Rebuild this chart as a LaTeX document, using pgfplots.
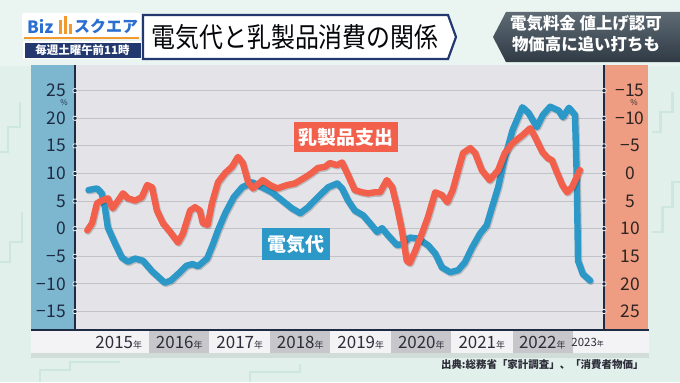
\documentclass[border=0pt]{standalone}
\usepackage{pgfplots}
\pgfplotsset{compat=1.18}
\usepackage{fontspec}
\usepackage{graphicx}
\setmainfont{Noto Sans CJK JP}
\definecolor{bgc}{HTML}{E2F0EC}
\definecolor{bgtop}{HTML}{EAF4F1}
\definecolor{bgline}{HTML}{CDE6DE}
\definecolor{panel}{HTML}{E4E4E8}
\definecolor{lband}{HTML}{7DB6CF}
\definecolor{rband}{HTML}{EE9D82}
\definecolor{navy}{HTML}{1E2B45}
\definecolor{gridc}{HTML}{C2C3C9}
\definecolor{bluel}{HTML}{2C98C8}
\definecolor{redl}{HTML}{F2604B}
\definecolor{stripw}{HTML}{F3F3F5}
\definecolor{stripg}{HTML}{C6C6CB}
\definecolor{labc}{HTML}{2E2E3A}
\definecolor{bizblue}{HTML}{2A6FD0}
\definecolor{bizorange}{HTML}{F29A2E}
\definecolor{boxnavy}{HTML}{22386E}
\definecolor{slateA}{HTML}{5E6A74}
\definecolor{slateB}{HTML}{2F3A45}
\definecolor{rlab}{HTML}{2E2522}

\pgfplotstableread{
x v
2015.00 7.0
2015.14 7.3
2015.22 6.4
2015.27 3.9
2015.32 0.2
2015.44 -2.7
2015.55 -5.2
2015.65 -6.0
2015.77 -5.4
2015.90 -5.8
2016.05 -7.7
2016.18 -9.0
2016.26 -9.8
2016.36 -9.4
2016.50 -8.0
2016.62 -6.7
2016.72 -6.4
2016.81 -6.8
2016.96 -5.4
2017.05 -3.0
2017.14 -0.3
2017.26 2.8
2017.40 5.7
2017.54 7.5
2017.71 8.4
2017.87 7.5
2018.03 6.6
2018.20 5.1
2018.36 3.7
2018.50 2.8
2018.63 3.9
2018.79 5.7
2018.96 7.5
2019.11 8.2
2019.19 7.3
2019.29 5.1
2019.40 3.3
2019.54 2.4
2019.65 1.0
2019.77 -0.6
2019.85 0.1
2019.95 -1.2
2020.10 -3.0
2020.20 -2.7
2020.31 -1.6
2020.45 -1.8
2020.61 -3.0
2020.73 -4.5
2020.84 -7.0
2020.98 -7.9
2021.11 -7.5
2021.22 -6.1
2021.34 -3.4
2021.47 -0.9
2021.58 0.6
2021.67 3.9
2021.77 7.5
2021.87 12.4
2022.01 17.9
2022.17 22.0
2022.27 21.0
2022.41 18.4
2022.51 20.6
2022.63 22.1
2022.77 21.4
2022.84 20.2
2022.94 21.9
2023.04 20.6
2023.07 9.0
2023.09 -5.8
2023.17 -8.2
2023.29 -9.4
}\blue

\pgfplotstableread{
x r
2014.98 10.3
2015.06 9.0
2015.14 5.4
2015.22 4.9
2015.32 4.5
2015.40 6.3
2015.49 4.9
2015.57 3.6
2015.65 4.5
2015.77 4.9
2015.88 4.3
2015.97 2.1
2016.05 2.5
2016.13 6.7
2016.23 9.0
2016.35 10.6
2016.48 12.5
2016.56 10.9
2016.68 6.7
2016.76 6.1
2016.84 6.7
2016.89 9.0
2016.97 9.3
2017.04 5.4
2017.14 1.6
2017.26 -0.1
2017.37 -1.2
2017.47 -3.0
2017.55 -1.9
2017.64 1.6
2017.72 2.7
2017.88 1.2
2018.00 2.1
2018.12 2.7
2018.28 2.1
2018.41 1.8
2018.58 0.7
2018.69 -0.1
2018.79 -1.0
2018.91 -1.2
2018.99 -1.9
2019.11 -1.5
2019.19 -2.0
2019.29 0.3
2019.40 3.0
2019.52 3.4
2019.62 3.6
2019.73 3.4
2019.82 3.4
2019.93 1.2
2020.02 2.5
2020.10 6.1
2020.18 10.3
2020.26 15.8
2020.31 16.2
2020.40 14.0
2020.51 10.9
2020.61 7.9
2020.73 3.4
2020.84 3.9
2020.93 5.2
2021.02 3.0
2021.11 -0.6
2021.19 -3.7
2021.31 -4.6
2021.39 -3.7
2021.50 -0.6
2021.63 1.2
2021.77 -0.6
2021.88 -3.7
2022.01 -5.5
2022.18 -7.0
2022.30 -8.2
2022.38 -6.6
2022.50 -3.9
2022.59 -2.8
2022.66 -2.4
2022.74 -0.2
2022.83 2.1
2022.91 3.4
2022.99 2.5
2023.12 -0.6
}\red

\begin{document}
\begin{tikzpicture}
\begin{scope}[x=1bp,y=1bp]
\useasboundingbox (0,0) rectangle (680,382);
\fill[bgc] (0,0) rectangle (680,382);
\fill[bgtop] (0,316) rectangle (680,382);
% faint decorative background strokes
\draw[bgline, line width=3] (0,120) -- (10,120) -- (10,140) -- (22,140) -- (22,170);
\draw[bgline, line width=3] (0,230) -- (8,230) -- (8,255) -- (20,255) -- (20,280);
\draw[bgline, line width=3] (652,150) -- (662,150) -- (662,175) -- (672,175) -- (672,200) -- (680,200);
\draw[bgline, line width=3] (652,250) -- (660,250) -- (660,270) -- (672,270) -- (672,290);
\draw[bgline, line width=3] (40,0) -- (40,12) -- (70,12) -- (70,20) -- (120,20);
\draw[bgline, line width=3] (250,0) -- (250,10) -- (300,10) -- (300,18);
% panel
\fill[panel] (75,52) rectangle (604,317);
\fill[lband] (31,52) rectangle (75,317);
\fill[rband] (604,52) rectangle (648,317);
% bottom strip
\fill[black, opacity=0.08] (31,24) rectangle (649,29);
\fill[stripw] (31,29) rectangle (149,52);
\fill[stripg] (149,29) rectangle (209,52);
\fill[stripw] (209,29) rectangle (270,52);
\fill[stripg] (270,29) rectangle (330,52);
\fill[stripw] (330,29) rectangle (391,52);
\fill[stripg] (391,29) rectangle (451,52);
\fill[stripw] (451,29) rectangle (513,52);
\fill[stripg] (513,29) rectangle (573,52);
\fill[stripw] (573,29) rectangle (649,52);
% axis lines
\draw[navy, line width=1.6] (75,52) -- (75,317);
\draw[navy, line width=1.6] (604,52) -- (604,317);
\draw[navy, line width=1.8] (31,52) -- (649,52);
% percent signs
\node[text=navy, font=\fontsize{8}{8}\selectfont] at (64,279) {\%};
\node[text=rlab, font=\fontsize{8}{8}\selectfont] at (634,279) {\%};
% source
\node[anchor=east, text=labc, font=\fontsize{10.5}{10.5}\selectfont\bfseries] at (647,17) {出典:総務省「家計調査」、「消費者物価」};
% logo
\fill[white, rounded corners=2] (22,343) rectangle (141,369);
\fill[bizorange] (24,343) rectangle (139,345.5);
\node[anchor=west, text=bizblue, font=\fontsize{17}{17}\selectfont\bfseries, inner sep=0] at (27,356) {Biz};
\fill[bizorange] (59,348) rectangle (62,362);
\fill[bizorange] (64,348) rectangle (67,366);
\fill[bizorange] (69,348) rectangle (72,358);
\node[anchor=west, text=bizblue, font=\fontsize{16}{16}\selectfont\bfseries, inner sep=0] at (74,356) {スクエア};
\fill[white] (23,323) rectangle (142,341);
\fill[boxnavy] (24.5,324.5) rectangle (140.5,339.5);
\node[text=white, font=\fontsize{11.5}{11.5}\selectfont\bfseries] at (82.5,332) {毎週土曜午前11時};
% title box
\filldraw[fill=white, draw=boxnavy, line width=2.2] (143,367) -- (448,367) -- (456,345) -- (448,323) -- (143,323) -- cycle;
\node[text=black!85!navy, font=\fontsize{24.5}{24.5}\selectfont] at (295,345) {\scalebox{0.98}[1.12]{電気代と乳製品消費の関係}};
% right box
\shade[top color=slateA, bottom color=slateB] (493,345) -- (506,370) -- (680,370) -- (680,320) -- (506,320) -- cycle;
\node[text=white, font=\fontsize{16.5}{16.5}\selectfont\bfseries] at (586,359) {電気料金 値上げ認可};
\node[text=white, font=\fontsize{16.5}{16.5}\selectfont\bfseries] at (586,338) {物価高に追い打ちも};
\end{scope}

\begin{axis}[
  at={(75bp,52bp)}, anchor=south west, scale only axis,
  width=529bp, height=265bp,
  xmin=2014.777, xmax=2023.52, ymin=-18.35, ymax=29.65,
  axis line style={draw=none}, tick style={draw=none},
  ytick={-15,-10,-5,0,5,10,15,20,25},
  yticklabels={−15,−10,−5,0,5,10,15,20,25},
  ymajorgrids, grid style={draw=gridc, line width=0.9bp},
  yticklabel style={anchor=east, inner sep=0pt, xshift=-9bp, font=\fontsize{17.5}{17.5}\selectfont, text=navy},
  xtick={2015.5,2016.5,2017.5,2018.5,2019.5,2020.5,2021.5,2022.5,2023.25},
  xticklabels={2015{\fontsize{9}{9}\selectfont 年},2016{\fontsize{9}{9}\selectfont 年},2017{\fontsize{9}{9}\selectfont 年},2018{\fontsize{9}{9}\selectfont 年},2019{\fontsize{9}{9}\selectfont 年},2020{\fontsize{9}{9}\selectfont 年},2021{\fontsize{9}{9}\selectfont 年},2022{\fontsize{9}{9}\selectfont 年},{\fontsize{11.5}{11.5}\selectfont 2023\fontsize{7}{7}\selectfont 年}},
  xticklabel style={anchor=center, inner sep=0pt, yshift=-13bp, font=\fontsize{17}{17}\selectfont, text=labc},
  clip=false,
]
\addplot[draw=black, opacity=0.18, line width=7bp, line join=round, line cap=round, xshift=0.8bp, yshift=-1bp, forget plot] table[x=x,y=v] {\blue};
\addplot[draw=bluel, line width=6.4bp, line join=round, line cap=round] table[x=x,y=v] {\blue};
\addplot[only marks, mark=*, mark size=2.2bp, mark options={fill=navy, draw=white, line width=0.7bp}, forget plot] coordinates {(2014.777,-15) (2014.777,-10) (2014.777,-5) (2014.777,0) (2014.777,5) (2014.777,10) (2014.777,15) (2014.777,20) (2014.777,25)};
\end{axis}

\begin{axis}[
  at={(75bp,52bp)}, anchor=south west, scale only axis,
  width=529bp, height=265bp,
  xmin=2014.777, xmax=2023.52, ymin=-19.65, ymax=28.35, y dir=reverse,
  axis line style={draw=none}, tick style={draw=none},
  xtick=\empty,
  ytick={-15,-10,-5,0,5,10,15,20,25},
  yticklabels={−15,−10,−5,0,5,10,15,20,25},
  yticklabel pos=right,
  yticklabel style={anchor=center, inner sep=0pt, xshift=26bp, font=\fontsize{17.5}{17.5}\selectfont, text=rlab},
  clip=false,
]
\addplot[draw=black, opacity=0.18, line width=7bp, line join=round, line cap=round, xshift=0.8bp, yshift=-1bp, forget plot] table[x=x,y=r] {\red};
\addplot[draw=redl, line width=6.4bp, line join=round, line cap=round] table[x=x,y=r] {\red};
\addplot[only marks, mark=*, mark size=2.2bp, mark options={fill=navy, draw=white, line width=0.7bp}, forget plot] coordinates {(2023.52,-15) (2023.52,-10) (2023.52,-5) (2023.52,0) (2023.52,5) (2023.52,10) (2023.52,15) (2023.52,20) (2023.52,25)};
\end{axis}

\begin{scope}[x=1bp,y=1bp]
\node[fill=redl, text=white, font=\fontsize{19}{19}\selectfont\bfseries, minimum width=104bp, minimum height=30bp, inner sep=0] at (346,245) {乳製品支出};
\node[fill=bluel, text=white, font=\fontsize{19}{19}\selectfont\bfseries, minimum width=68bp, minimum height=32bp, inner sep=0] at (296,138) {電気代};
\end{scope}
\end{tikzpicture}
\end{document}
